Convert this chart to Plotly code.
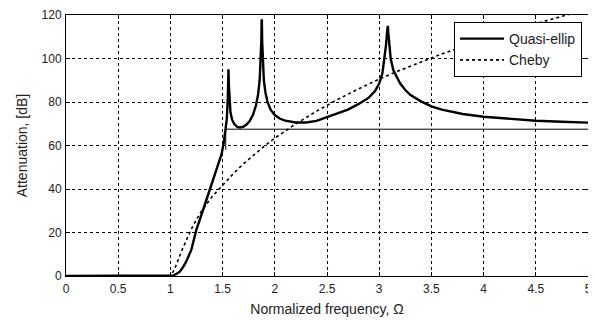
import plotly.graph_objects as go

# Quasi-elliptic filter attenuation
qe_x = [0, 0.98, 1.0, 1.03, 1.06, 1.09, 1.12, 1.15, 1.2, 1.25, 1.3, 1.35, 1.4, 1.45, 1.49, 1.51,
        1.53, 1.54, 1.55, 1.553, 1.556, 1.56, 1.565, 1.575, 1.59, 1.61, 1.64, 1.667, 1.7, 1.73,
        1.76, 1.79, 1.82, 1.84, 1.855, 1.865, 1.871, 1.874, 1.876, 1.879, 1.885, 1.895, 1.91,
        1.93, 1.96, 2.0, 2.05, 2.1, 2.2, 2.3, 2.4, 2.5, 2.6, 2.7, 2.8, 2.9, 2.96, 3.0, 3.03,
        3.05, 3.065, 3.075, 3.079, 3.083, 3.087, 3.095, 3.11, 3.135, 3.17, 3.2, 3.25, 3.3, 3.4,
        3.5, 3.6, 3.8, 4.0, 4.25, 4.5, 4.75, 5.0]
qe_db = [0, 0, 0, 0.3, 1, 2, 4, 6.5, 12, 21.5, 28.5, 35.5, 42.5, 49.5, 56, 61,
         67, 72, 82, 92, 95, 88, 80, 75.5, 72, 70, 68.6, 68.3, 68.7, 69.6,
         71.3, 74, 78.5, 83.5, 90, 98, 108, 117.5, 117.5, 108, 98, 90, 84.5,
         80, 76.5, 74, 72.3, 71.4, 70.6, 70.6, 71.3, 73, 74.5, 76.5, 79, 82, 85, 88.5, 93,
         100, 106, 112, 115, 115, 112, 106, 100, 94.7, 91, 88.6, 85.5, 83.2, 80.3,
         78, 76.5, 74.5, 73.2, 72.2, 71.4, 70.9, 70.5]

# Chebyshev filter attenuation
ch_x = [0, 0.98, 1.0, 1.03, 1.06, 1.1, 1.15, 1.2, 1.25, 1.3, 1.4, 1.5, 1.6, 1.7, 1.8, 1.9, 2.0,
        2.2, 2.4, 2.6, 2.8, 3.0, 3.2, 3.4, 3.6, 3.8, 4.0, 4.2, 4.4, 4.6, 4.8, 5.0]
ch_db = [0, 0, 0, 2.3, 5.5, 10.7, 16.5, 21.5, 26, 30, 36.5, 41.8, 46.9, 51.6, 55.8, 59.7, 63.4,
         69.9, 75.8, 81.1, 86.0, 90.5, 94.6, 98.5, 102.1, 105.5, 108.7, 111.8, 114.7, 117.5, 120.1, 122.7]

# Stopband specification mask
mask_x = [1.53, 1.53, 5.0]
mask_db = [58, 67.5, 67.5]

x_ticks = [0, 0.5, 1, 1.5, 2, 2.5, 3, 3.5, 4, 4.5, 5]
x_tick_labels = ["0", "0.5", "1", "1.5", "2", "2.5", "3", "3.5", "4", "4.5", "5"]
y_ticks = [0, 20, 40, 60, 80, 100, 120]

fig = go.Figure()
fig.add_trace(go.Scatter(x=mask_x, y=mask_db, mode="lines",
                         line=dict(color="black", width=1), showlegend=False, hoverinfo="skip"))
fig.add_trace(go.Scatter(x=qe_x, y=qe_db, mode="lines", name="Quasi-ellip",
                         line=dict(color="black", width=2.4)))
fig.add_trace(go.Scatter(x=ch_x, y=ch_db, mode="lines", name="Cheby",
                         line=dict(color="black", width=1.6, dash="dot")))

font = dict(family="Liberation Sans, Arial, sans-serif", size=12, color="#222")
# The page body adds an 8px offset, so the figure is 8px smaller than the window.
fig.update_layout(
    width=588, height=312,
    margin=dict(l=58, r=8, t=7, b=44, autoexpand=False),
    paper_bgcolor="white", plot_bgcolor="white",
    font=font,
    legend=dict(x=0.9885, y=0.973, xanchor="right", yanchor="top",
                bgcolor="white", bordercolor="black", borderwidth=1,
                font=dict(family="Liberation Sans, Arial, sans-serif", size=14, color="#222"),
                tracegroupgap=0, itemwidth=44),
    showlegend=True,
)
axis_common = dict(showline=True, linecolor="black", linewidth=1, mirror="ticks",
                   ticks="inside", ticklen=4, tickcolor="black",
                   showgrid=True, gridcolor="black", gridwidth=1, griddash="3px,3px",
                   zeroline=False, automargin=False)
fig.update_xaxes(range=[0, 5], tickvals=x_ticks, ticktext=x_tick_labels, ticklabelstandoff=2,
                 title=dict(text="Normalized frequency, Ω", standoff=8), **axis_common)
fig.update_yaxes(range=[0, 120], tickvals=y_ticks, ticklabelstandoff=1,
                 title=dict(text="Attenuation, [dB]", standoff=10), **axis_common)

fig.write_html("out.html")
